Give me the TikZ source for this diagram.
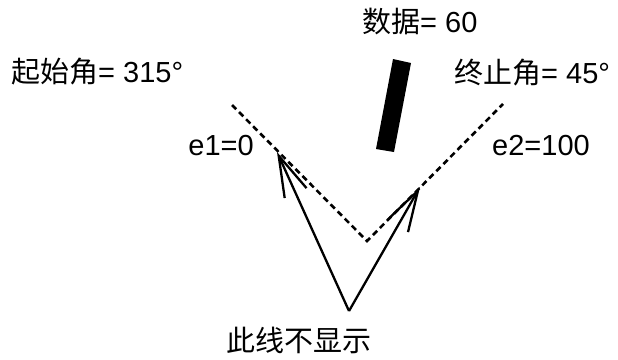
\documentclass[tikz,border=0pt]{standalone}
\usepackage{fontspec}
\setmainfont{Liberation Sans}
\newfontfamily\cjk{Noto Sans CJK SC}
\usetikzlibrary{arrows.meta}
\newcommand{\zh}[1]{{\cjk #1}}
\tikzset{
	txt/.style = {inner sep=0pt, font=\fontsize{29}{32}\selectfont},
	edgeline/.style = {line width=2.6pt, dash pattern=on 6pt off 4pt},
	ray/.style = {line width=2.3pt, -{Straight Barb[length=41pt,width=24pt,line width=2.3pt]}}
}
\begin{document}
\begin{tikzpicture}[x=1pt, y=-1pt]
		\useasboundingbox (0,0) rectangle (618,359);
		
		\coordinate (start) at (232,105);
		\coordinate (apex) at (367,241);
		\coordinate (stop) at (503,104);
		\coordinate (e1) at (277,152);
		\coordinate (e2) at (420,187);
		\coordinate (base) at (349,311);
		
		\draw[edgeline] (start) -- (apex) -- (stop);
		\draw[ray] (base) -- (e1);
		\draw[ray] (base) -- (e2);
		
		% data bar
		\fill (393,59) -- (411,63) -- (394,152) -- (376,149) -- cycle;
		
		\node[txt, anchor=west] (data) at (362,22) {\zh{数据}= 60};
		\node[txt, anchor=west] (startangle) at (11,72) {\zh{起始角}= 315°};
		\node[txt, anchor=west] (stopangle) at (454,73) {\zh{终止角}= 45°};
		\node[txt, anchor=east] (e1text) at (254,146) {e1=0};
		\node[txt, anchor=west] (e2text) at (492,146) {e2=100};
		\node[txt] (hidden) at (299,340) {\zh{此线不显示}};
	\end{tikzpicture}
\end{document}
